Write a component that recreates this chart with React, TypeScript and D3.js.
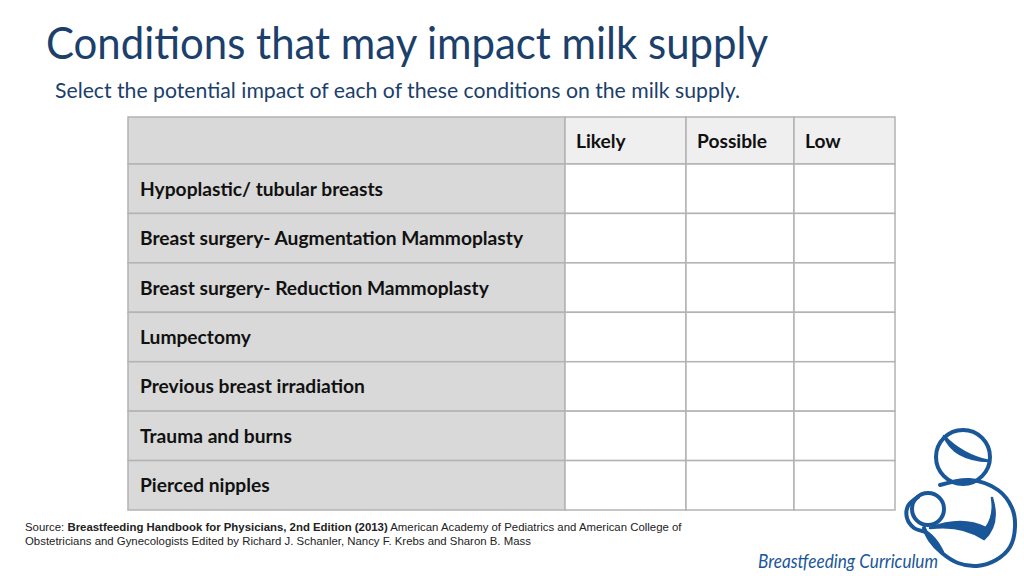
import React from "react";
import * as d3 from "d3";

const title = "Conditions that may impact milk supply";
const subtitle = "Select the potential impact of each of these conditions on the milk supply.";
const columns = ["Likely", "Possible", "Low"];
const conditions = [
  "Hypoplastic/ tubular breasts",
  "Breast surgery- Augmentation Mammoplasty",
  "Breast surgery- Reduction Mammoplasty",
  "Lumpectomy",
  "Previous breast irradiation",
  "Trauma and burns",
  "Pierced nipples",
];
const sourceBold = "Breastfeeding Handbook for Physicians, 2nd Edition (2013)";
const sourceRest1 = " American Academy of Pediatrics and American College of";
const sourceLine2 = "Obstetricians and Gynecologists Edited by Richard J. Schanler, Nancy F. Krebs and Sharon B. Mass";
const brand = "Breastfeeding Curriculum";

const W = 1024;
const H = 576;
const tableLeft = 128;
const labelRight = 565;
const colEdges = [565, 686, 794, 895];
const headerTop = 117;
const headerBottom = 164;
const tableBottom = 510;
const border = "#b3b3b3";
const gray = "#d9d9d9";
const lightGray = "#efefef";
const navy = "#1b406b";
const logoBlue = "#1a5799";
const bodyFont = "Lato, 'Open Sans', sans-serif";

// logo outline (decorative, in logo-local units)
const bodyOutline: [number, number][] = [
  [40, 65], [70, 60], [98, 70], [112, 88], [115, 107], [110, 127], [96, 140], [77, 146], [58, 143], [42, 133], [30, 120], [24, 108],
];
const babyLoop: [number, number][] = [
  [18, 77], [8, 86], [7, 98], [14, 108], [27, 113], [36, 122], [42, 132],
];

export default function App() {
  const rowScale = d3
    .scaleBand<string>()
    .domain(conditions)
    .range([headerBottom, tableBottom]);
  const colScale = d3
    .scaleOrdinal<string, number>()
    .domain(columns)
    .range(colEdges.slice(0, 3));
  const colWidth = (c: string) => colEdges[columns.indexOf(c) + 1] - colScale(c);
  const smooth = d3.line().curve(d3.curveCatmullRom.alpha(0.5));

  return (
    <svg width={W} height={H} style={{ display: "block", position: "absolute", left: 0, top: 0 }}>
      <rect x={0} y={0} width={W} height={H} fill="#ffffff" />
      <text x={46} y={59} fontFamily={bodyFont} fontSize={45} fill={navy} textLength={722} lengthAdjust="spacingAndGlyphs">
        {title}
      </text>
      <text x={55} y={98} fontFamily={bodyFont} fontSize={21} fill={navy} textLength={685} lengthAdjust="spacingAndGlyphs">
        {subtitle}
      </text>

      {/* header */}
      <rect x={tableLeft} y={headerTop} width={labelRight - tableLeft} height={headerBottom - headerTop} fill={gray} stroke={border} strokeWidth={1.5} />
      {columns.map((c) => (
        <g key={c}>
          <rect x={colScale(c)} y={headerTop} width={colWidth(c)} height={headerBottom - headerTop} fill={lightGray} stroke={border} strokeWidth={1.5} />
          <text x={colScale(c) + 11} y={(headerTop + headerBottom) / 2 + 7} fontFamily={bodyFont} fontWeight={700} fontSize={19.2} fill="#111">
            {c}
          </text>
        </g>
      ))}

      {/* body rows */}
      {conditions.map((cond) => {
        const y = rowScale(cond)!;
        const h = rowScale.bandwidth();
        return (
          <g key={cond}>
            <rect x={tableLeft} y={y} width={labelRight - tableLeft} height={h} fill={gray} stroke={border} strokeWidth={1.5} />
            <text x={tableLeft + 12} y={y + h / 2 + 7} fontFamily={bodyFont} fontWeight={700} fontSize={19.2} fill="#111">
              {cond}
            </text>
            {columns.map((c) => (
              <rect key={c} x={colScale(c)} y={y} width={colWidth(c)} height={h} fill="#ffffff" stroke={border} strokeWidth={1.5} />
            ))}
          </g>
        );
      })}

      {/* source */}
      <text x={25} y={531} fontFamily="'Liberation Sans', Arial, sans-serif" fontSize={11.4} fill="#222">
        <tspan>Source: </tspan>
        <tspan fontWeight={700}>{sourceBold}</tspan>
        <tspan>{sourceRest1}</tspan>
      </text>
      <text x={25} y={545} fontFamily="'Liberation Sans', Arial, sans-serif" fontSize={11.4} fill="#222">
        {sourceLine2}
      </text>

      {/* brand */}
      <text x={758} y={568} fontFamily={bodyFont} fontStyle="italic" fontSize={19} fill={logoBlue} textLength={180} lengthAdjust="spacingAndGlyphs">
        {brand}
      </text>

      {/* logo */}
      <g transform="translate(900,420)" fill="none" stroke={logoBlue} strokeWidth={4} strokeLinecap="round" strokeLinejoin="round">
        <circle cx={63} cy={37} r={27} />
        <path d="M44 16 Q54 40 89 41 Q62 35 44 16 Z" fill={logoBlue} strokeWidth={2.5} />
        <path d={smooth(bodyOutline) ?? ""} />
        <circle cx={28} cy={89} r={16} />
        <path d={smooth(babyLoop) ?? ""} />
        <path d="M30 108 Q62 96 86 108 Q95 96 92 78 Q100 104 84 119 Q62 104 30 108 Z" fill={logoBlue} strokeWidth={2.5} />
      </g>
    </svg>
  );
}
